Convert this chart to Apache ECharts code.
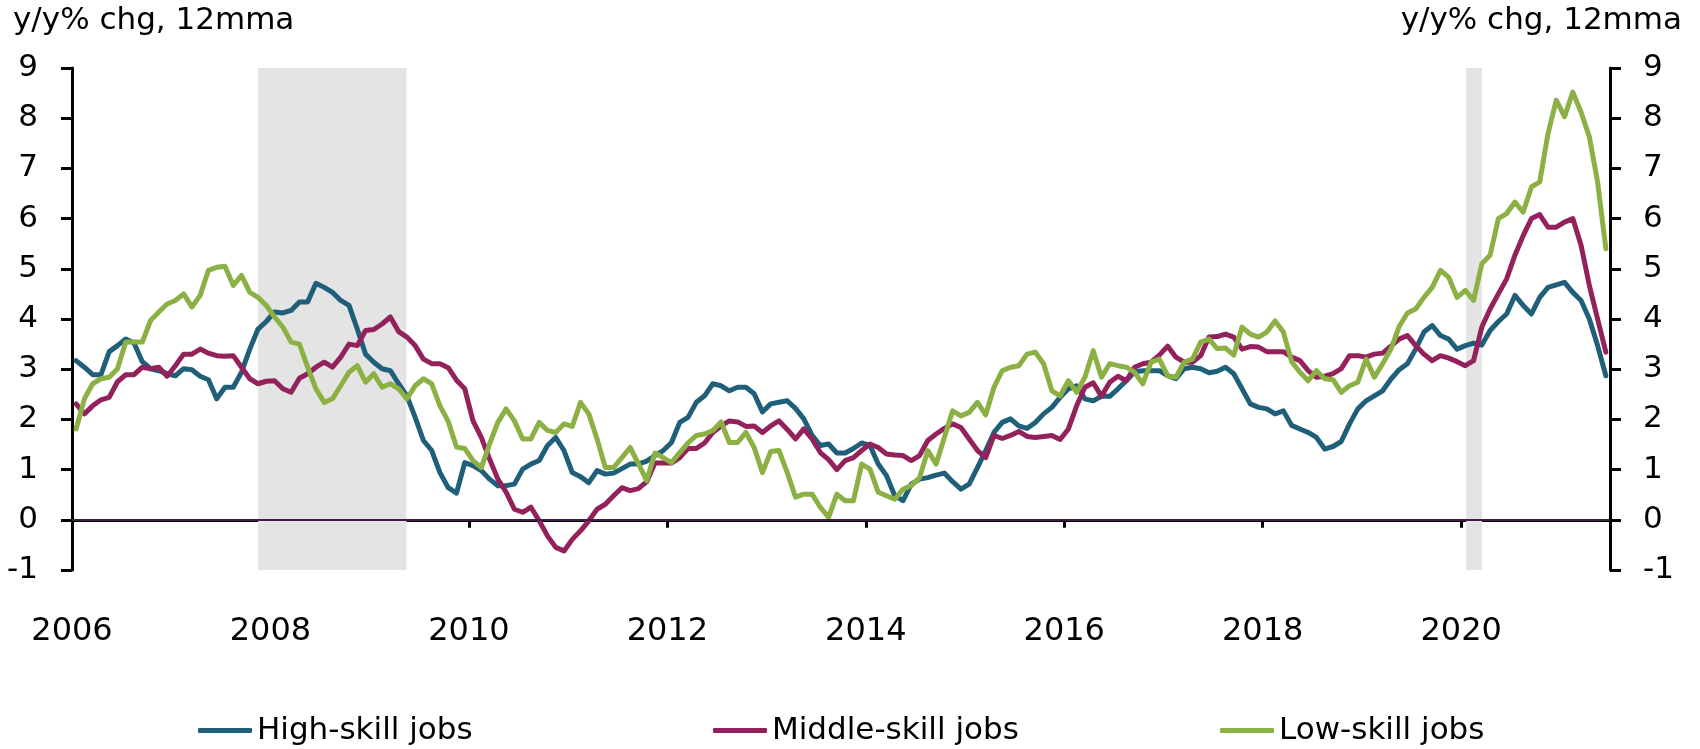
<!DOCTYPE html>
<html>
<head>
<meta charset="utf-8">
<script src="https://cdn.jsdelivr.net/npm/echarts@6/dist/echarts.min.js"></script>
<style>
  html, body { margin: 0; padding: 0; background: #fff; }
  #chart { width: 1700px; height: 749px; }
</style>
</head>
<body>
<div id="chart"></div>
<script>
// monthly, y/y% chg 12mma, Jan 2006 .. Jun 2021
const startYear = 2006
const highSkill = [
  3.17, 3.04, 2.89, 2.89, 3.35, 3.47, 3.60, 3.52, 3.15, 3.01, 2.97, 2.91,
  2.87, 3.01, 2.99, 2.86, 2.79, 2.41, 2.64, 2.64, 2.94, 3.40, 3.80, 3.95,
  4.14, 4.12, 4.17, 4.34, 4.34, 4.71, 4.63, 4.53, 4.37, 4.27, 3.80, 3.30,
  3.14, 3.01, 2.97, 2.71, 2.47, 2.04, 1.58, 1.38, 0.94, 0.64, 0.53, 1.14,
  1.08, 0.98, 0.81, 0.68, 0.68, 0.71, 1.01, 1.11, 1.18, 1.48, 1.64, 1.38,
  0.94, 0.86, 0.74, 0.98, 0.91, 0.93, 1.02, 1.11, 1.11, 1.17, 1.28, 1.38,
  1.54, 1.94, 2.04, 2.34, 2.47, 2.71, 2.67, 2.57, 2.64, 2.64, 2.51, 2.15,
  2.31, 2.34, 2.37, 2.22, 2.01, 1.68, 1.48, 1.51, 1.33, 1.33, 1.42, 1.53,
  1.48, 1.11, 0.88, 0.48, 0.38, 0.71, 0.81, 0.84, 0.89, 0.93, 0.76, 0.61,
  0.71, 1.04, 1.38, 1.74, 1.94, 2.01, 1.87, 1.82, 1.94, 2.11, 2.24, 2.44,
  2.61, 2.67, 2.41, 2.37, 2.46, 2.46, 2.61, 2.77, 2.95, 2.97, 2.97, 2.97,
  2.87, 2.81, 3.01, 3.04, 3.01, 2.93, 2.96, 3.04, 2.91, 2.61, 2.31, 2.24,
  2.21, 2.11, 2.17, 1.88, 1.81, 1.74, 1.64, 1.41, 1.46, 1.56, 1.91, 2.21,
  2.37, 2.47, 2.57, 2.80, 2.99, 3.11, 3.40, 3.74, 3.87, 3.67, 3.60, 3.40,
  3.47, 3.52, 3.48, 3.77, 3.95, 4.10, 4.47, 4.27, 4.10, 4.43, 4.63, 4.68,
  4.73, 4.53, 4.37, 4.00, 3.47, 2.87
]
const middleSkill = [
  2.31, 2.11, 2.27, 2.39, 2.44, 2.75, 2.89, 2.89, 3.04, 3.01, 3.04, 2.86,
  3.07, 3.30, 3.30, 3.40, 3.32, 3.27, 3.26, 3.27, 3.04, 2.81, 2.71, 2.76,
  2.77, 2.61, 2.54, 2.82, 2.91, 3.04, 3.14, 3.04, 3.24, 3.50, 3.47, 3.77,
  3.79, 3.90, 4.04, 3.75, 3.64, 3.47, 3.20, 3.11, 3.11, 3.03, 2.78, 2.61,
  1.97, 1.64, 1.21, 0.81, 0.55, 0.21, 0.15, 0.25, -0.02, -0.32, -0.55, -0.62,
  -0.39, -0.22, -0.02, 0.21, 0.31, 0.48, 0.64, 0.58, 0.62, 0.76, 1.13, 1.13,
  1.13, 1.24, 1.42, 1.42, 1.53, 1.74, 1.87, 1.97, 1.95, 1.86, 1.87, 1.74,
  1.87, 1.97, 1.80, 1.61, 1.81, 1.61, 1.34, 1.20, 1.00, 1.18, 1.24, 1.38,
  1.51, 1.44, 1.31, 1.29, 1.28, 1.18, 1.28, 1.58, 1.71, 1.82, 1.91, 1.84,
  1.61, 1.38, 1.24, 1.68, 1.62, 1.68, 1.76, 1.66, 1.64, 1.66, 1.68, 1.60,
  1.81, 2.27, 2.64, 2.73, 2.46, 2.74, 2.86, 2.77, 3.04, 3.11, 3.14, 3.28,
  3.46, 3.24, 3.14, 3.14, 3.27, 3.64, 3.65, 3.70, 3.64, 3.40, 3.45, 3.44,
  3.35, 3.35, 3.35, 3.24, 3.17, 2.97, 2.84, 2.86, 2.91, 3.01, 3.27, 3.27,
  3.24, 3.30, 3.32, 3.46, 3.60, 3.67, 3.47, 3.30, 3.17, 3.27, 3.22, 3.15,
  3.07, 3.17, 3.84, 4.20, 4.50, 4.80, 5.27, 5.66, 6.00, 6.08, 5.83, 5.83,
  5.93, 6.00, 5.47, 4.67, 4.00, 3.34
]
const lowSkill = [
  1.81, 2.41, 2.71, 2.81, 2.84, 3.01, 3.54, 3.54, 3.54, 3.97, 4.14, 4.30,
  4.37, 4.50, 4.24, 4.47, 4.97, 5.03, 5.05, 4.67, 4.87, 4.53, 4.43, 4.27,
  4.04, 3.84, 3.54, 3.50, 3.04, 2.61, 2.34, 2.41, 2.67, 2.94, 3.07, 2.74,
  2.91, 2.64, 2.71, 2.61, 2.41, 2.67, 2.81, 2.71, 2.27, 1.96, 1.45, 1.42,
  1.18, 1.04, 1.51, 1.94, 2.21, 1.97, 1.61, 1.61, 1.94, 1.78, 1.74, 1.91,
  1.86, 2.34, 2.11, 1.61, 1.04, 1.04, 1.24, 1.44, 1.12, 0.78, 1.33, 1.24,
  1.14, 1.34, 1.53, 1.68, 1.71, 1.78, 1.95, 1.54, 1.54, 1.74, 1.44, 0.94,
  1.36, 1.38, 0.94, 0.45, 0.51, 0.51, 0.25, 0.05, 0.51, 0.38, 0.38, 1.11,
  1.01, 0.55, 0.48, 0.41, 0.61, 0.68, 0.84, 1.38, 1.11, 1.64, 2.17, 2.07,
  2.14, 2.34, 2.09, 2.64, 2.97, 3.04, 3.07, 3.30, 3.34, 3.11, 2.57, 2.47,
  2.77, 2.54, 2.84, 3.37, 2.84, 3.11, 3.07, 3.04, 2.94, 2.71, 3.14, 3.20,
  2.87, 2.84, 3.14, 3.20, 3.54, 3.60, 3.41, 3.42, 3.28, 3.84, 3.70, 3.64,
  3.74, 3.96, 3.74, 3.15, 2.94, 2.77, 2.97, 2.81, 2.79, 2.54, 2.67, 2.74,
  3.20, 2.84, 3.11, 3.40, 3.85, 4.12, 4.20, 4.43, 4.63, 4.97, 4.83, 4.43,
  4.57, 4.37, 5.10, 5.27, 6.00, 6.10, 6.33, 6.13, 6.63, 6.73, 7.69, 8.36,
  8.03, 8.52, 8.12, 7.63, 6.73, 5.40
]
// recessions, in decimal years
const recessions = [[2007.875, 2009.37], [2020.05, 2020.21]]
const yearLabels = [2006, 2008, 2010, 2012, 2014, 2016, 2018, 2020]
const unitLabel = 'y/y% chg, 12mma'

const font = 'DejaVu Sans'
// mid-month points
const monthX = highSkill.map((v, i) => startYear + (i + 0.5) / 12)
const pairs = (arr) => arr.map((v, i) => [monthX[i], v])

let myChart = echarts.init(document.getElementById('chart'))

const yAxisBase = {
  type: 'value',
  min: -1,
  max: 9,
  interval: 1,
  splitLine: { show: false },
  axisLine: { show: true, lineStyle: { color: '#000', width: 3 } },
  axisTick: { show: true, length: 11, lineStyle: { color: '#000', width: 3 } },
}

const lineSeries = (name, values, color) => ({
  name: name,
  type: 'line',
  data: pairs(values),
  symbol: 'none',
  z: 3,
  color: color,
  lineStyle: { width: 5, color: color, cap: 'round', join: 'round' },
})

let option = {
  animation: false,
  backgroundColor: '#fff',
  textStyle: { fontFamily: font },
  title: [
    {
      text: unitLabel,
      left: 13,
      top: 5,
      padding: 0,
      textStyle: { fontSize: 31, fontWeight: 'normal', color: '#000', fontFamily: font },
    },
    {
      text: unitLabel,
      right: 18,
      top: 5,
      padding: 0,
      textStyle: { fontSize: 31, fontWeight: 'normal', color: '#000', fontFamily: font },
    },
  ],
  grid: {
    left: 72,
    right: 90,
    top: 68,
    bottom: 179,
    outerBoundsMode: 'none',
  },
  legend: [
    { name: 'High-skill jobs', left: 198 },
    { name: 'Middle-skill jobs', left: 713 },
    { name: 'Low-skill jobs', left: 1220 },
  ].map((l) => ({
    data: [l.name],
    left: l.left,
    top: 715,
    padding: 0,
    icon: 'roundRect',
    itemWidth: 54,
    itemHeight: 5,
    selectedMode: false,
    textStyle: { fontSize: 31, color: '#000', fontFamily: font },
  })),
  xAxis: {
    type: 'value',
    min: 2006,
    max: 2021.5,
    interval: 2,
    splitLine: { show: false },
    axisLine: { show: true, lineStyle: { color: '#000', width: 3 } },
    axisTick: { show: true, length: 8, lineStyle: { color: '#000', width: 3 } },
    axisLabel: {
      margin: 46,
      fontSize: 32,
      color: '#000',
      fontFamily: font,
      showMaxLabel: false,
      formatter: (v) => (yearLabels.includes(v) ? String(v) : ''),
    },
  },
  yAxis: [
    Object.assign({}, yAxisBase, {
      position: 'left',
      axisLabel: { margin: 34, fontSize: 31, color: '#000', fontFamily: font },
    }),
    Object.assign({}, yAxisBase, {
      position: 'right',
      axisLabel: { margin: 33, fontSize: 31, color: '#000', fontFamily: font },
    }),
  ],
  series: [
    {
      // recession shading and zero line
      type: 'line',
      data: [],
      z: 1,
      silent: true,
      markArea: {
        silent: true,
        itemStyle: { color: '#e4e4e4' },
        data: recessions.map((r) => [{ xAxis: r[0] }, { xAxis: r[1] }]),
      },
      markLine: {
        silent: true,
        symbol: ['none', 'none'],
        label: { show: false },
        lineStyle: { color: '#3d1f41', width: 2, type: 'solid' },
        data: [{ yAxis: 0 }],
      },
    },
    lineSeries('High-skill jobs', highSkill, '#1f5f7a'),
    lineSeries('Middle-skill jobs', middleSkill, '#93215b'),
    lineSeries('Low-skill jobs', lowSkill, '#8bb043'),
  ],
}

myChart.setOption(option)
</script>
</body>
</html>
